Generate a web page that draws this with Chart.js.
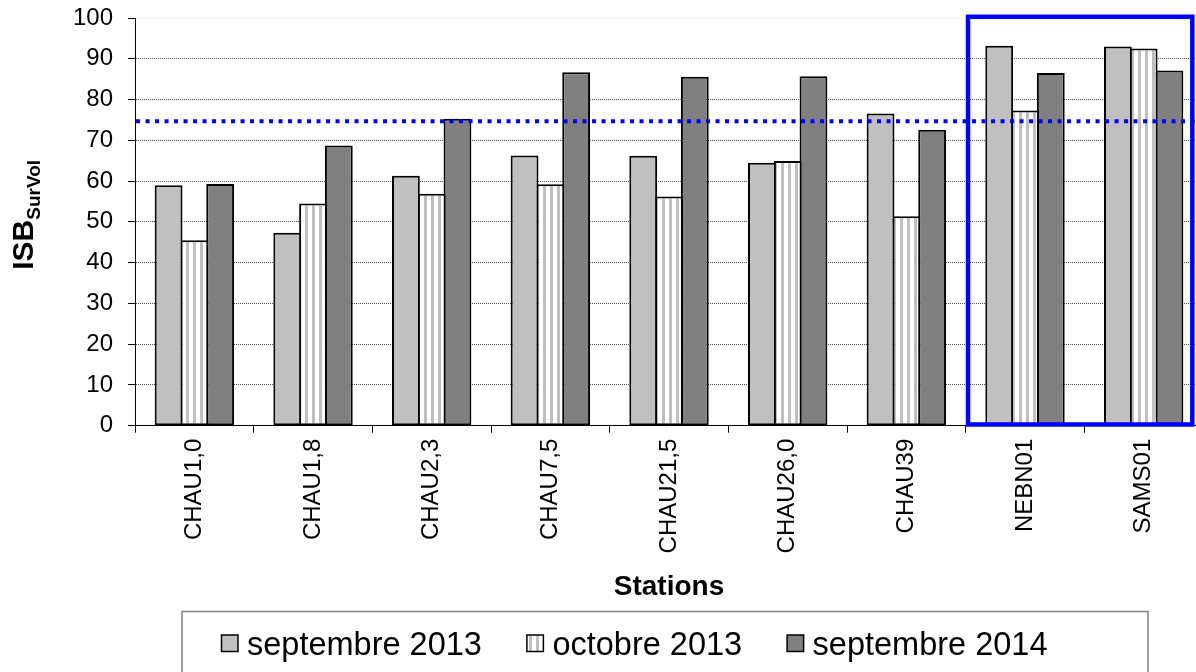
<!DOCTYPE html>
<html>
<head>
<meta charset="utf-8">
<script src="https://cdn.jsdelivr.net/npm/chart.js@4.4.1/dist/chart.umd.min.js"></script>
<style>
html, body { margin: 0; padding: 0; background: #fff; overflow: hidden; }
#wrap { width: 1206px; height: 672px; position: relative; }
</style>
</head>
<body>
<div id="wrap"><canvas id="chart"></canvas></div>
<script>
const stations = ["CHAU1,0", "CHAU1,8", "CHAU2,3", "CHAU7,5", "CHAU21,5", "CHAU26,0", "CHAU39", "NEBN01", "SAMS01"];
const sept2013 = [59.0, 47.3, 61.3, 66.3, 66.2, 64.5, 76.6, 93.2, 93.0];
const oct2013 = [45.5, 54.5, 56.9, 59.2, 56.2, 64.9, 51.4, 77.3, 92.5];
const sept2014 = [59.3, 68.7, 75.3, 86.7, 85.6, 85.7, 72.6, 86.5, 87.1];
const seriesNames = ["septembre 2013", "octobre 2013", "septembre 2014"];
const yTicks = [0, 10, 20, 30, 40, 50, 60, 70, 80, 90, 100];
const threshold = 74.7;
const highlighted = ["NEBN01", "SAMS01"];

const FONT = '"Liberation Sans", Arial, sans-serif';

// white bar with thin grey vertical stripes (octobre 2013)
function stripes() {
    const c = document.createElement("canvas");
    c.width = 7; c.height = 8;
    const g = c.getContext("2d");
    g.fillStyle = "#fff"; g.fillRect(0, 0, 7, 8);
    g.fillStyle = "#c0c0c0"; g.fillRect(4, 0, 3, 8);
    return g.createPattern(c, "repeat");
}

const extras = {
    id: "extras",
    afterDatasetsDraw(chart) {
        const {ctx, chartArea, scales: {x, y}} = chart;
        ctx.save();
        // threshold line
        const ty = y.getPixelForValue(threshold);
        ctx.strokeStyle = "#0000ff";
        ctx.lineWidth = 4;
        ctx.setLineDash([4, 5.5]);
        ctx.beginPath();
        ctx.moveTo(chartArea.left + 1, ty);
        ctx.lineTo(chartArea.right, ty);
        ctx.stroke();
        // frame around the reference stations
        ctx.setLineDash([]);
        ctx.lineWidth = 4.5;
        const i0 = stations.indexOf(highlighted[0]);
        const i1 = stations.indexOf(highlighted[highlighted.length - 1]);
        const x0 = x.getPixelForValue(i0 - 0.48);
        const x1 = x.getPixelForValue(i1 + 0.41);
        const y0 = y.getPixelForValue(100.3);
        const y1 = y.getPixelForValue(0.3);
        ctx.strokeRect(x0, y0, x1 - x0, y1 - y0);
        ctx.restore();
    },
    afterDraw(chart) {
        const {ctx, chartArea} = chart;
        ctx.save();
        ctx.fillStyle = "#000";
        // y title ISB with subscript SurVol
        const big = "bold 30px " + FONT, small = "bold 19px " + FONT;
        ctx.font = big;
        const w1 = ctx.measureText("ISB").width;
        ctx.font = small;
        const w2 = ctx.measureText("SurVol").width;
        const cy = (chartArea.top + chartArea.bottom) / 2 - 7;
        ctx.translate(33, cy + (w1 + w2) / 2);
        ctx.rotate(-Math.PI / 2);
        ctx.textAlign = "left";
        ctx.textBaseline = "alphabetic";
        ctx.font = big;
        ctx.fillText("ISB", 0, 0);
        ctx.font = small;
        ctx.fillText("SurVol", w1, 7);
        ctx.restore();

        // legend in a box
        ctx.save();
        ctx.strokeStyle = "#808080";
        ctx.lineWidth = 1.5;
        ctx.strokeRect(182, 611.5, 966, 100);
        ctx.font = "32.5px " + FONT;
        ctx.textBaseline = "alphabetic";
        ctx.textAlign = "left";
        const box = 16.5, gap = 9, between = 45;
        let lx = 221.5;
        chart.data.datasets.forEach(d => {
            ctx.fillStyle = d.backgroundColor;
            ctx.fillRect(lx, 635, box, box);
            ctx.strokeStyle = "#000";
            ctx.lineWidth = 1.5;
            ctx.strokeRect(lx, 635, box, box);
            ctx.fillStyle = "#000";
            ctx.fillText(d.label, lx + box + gap, 655);
            lx += box + gap + ctx.measureText(d.label).width + between;
        });
        ctx.restore();
    }
};

const common = {borderColor: "#000", borderWidth: 2, borderSkipped: false, categoryPercentage: 0.652, barPercentage: 1.078};

new Chart(document.getElementById("chart"), {
    type: "bar",
    data: {
        labels: stations,
        datasets: [
            {label: seriesNames[0], data: sept2013, backgroundColor: "#c0c0c0", ...common},
            {label: seriesNames[1], data: oct2013, backgroundColor: stripes(), ...common},
            {label: seriesNames[2], data: sept2014, backgroundColor: "#808080", ...common}
        ]
    },
    options: {
        responsive: true,
        maintainAspectRatio: false,
        animation: false,
        events: [],
        layout: {padding: {left: 58, top: 18, right: 3, bottom: 68}},
        plugins: {legend: {display: false}, tooltip: {enabled: false}},
        scales: {
            x: {
                grid: {offset: true, drawOnChartArea: false, drawTicks: true, tickLength: 7, tickColor: "#000", tickWidth: 1},
                border: {color: "#000", width: 1},
                ticks: {minRotation: 90, maxRotation: 90, padding: 6, color: "#000", font: {size: 24, family: FONT}},
                title: {display: true, text: "Stations", color: "#000", font: {size: 28, weight: "bold", family: FONT}, padding: {top: 11, bottom: 0}}
            },
            y: {
                min: 0, max: 100,
                afterBuildTicks: axis => { axis.ticks = yTicks.map(v => ({value: v})); },
                afterFit: axis => { axis.paddingTop = 0; },
                ticks: {padding: 15, color: "#000", font: {size: 24, family: FONT, lineHeight: 0.6}},
                grid: {
                    color: c => (c.tick && c.tick.value === 100) ? "#e6e6e6" : "#555",
                    lineWidth: 1, tickLength: 7, tickColor: "#000", tickBorderDash: []
                },
                border: {color: "#000", width: 1, dash: [1, 1]}
            }
        }
    },
    plugins: [extras]
});
</script>
</body>
</html>
